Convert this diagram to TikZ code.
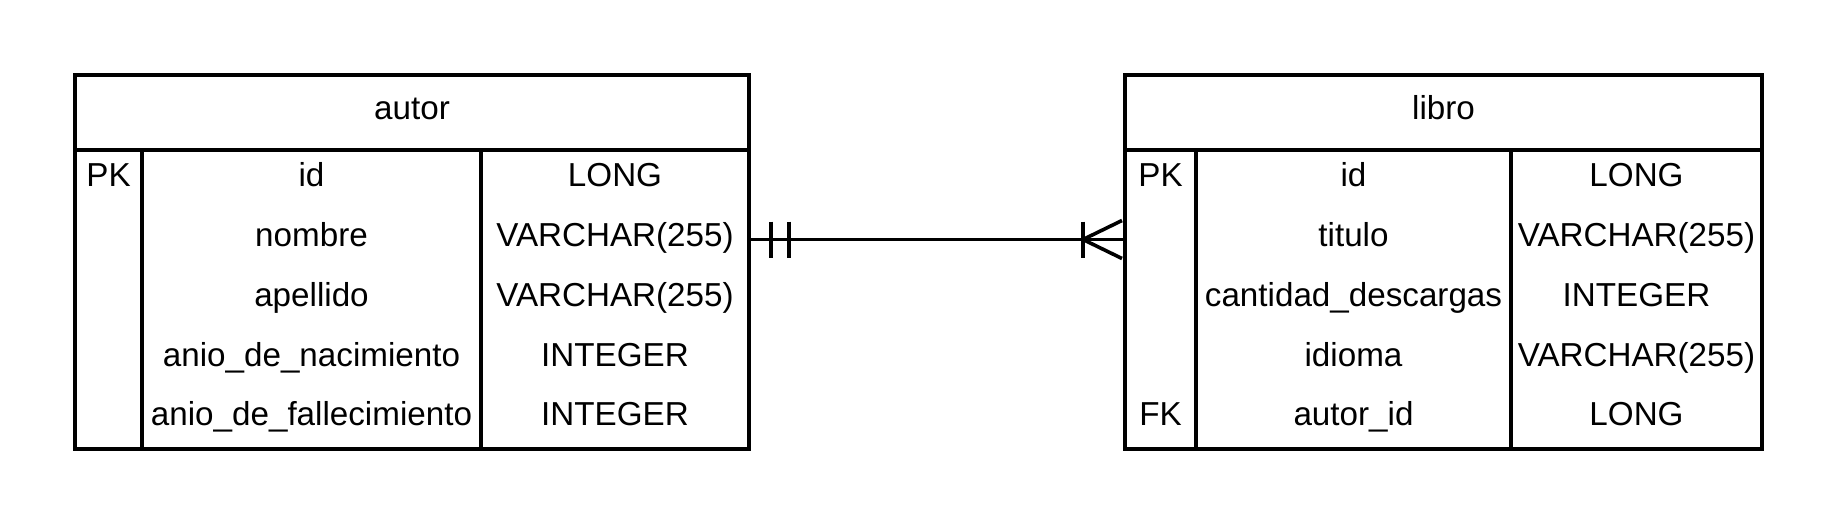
\documentclass[tikz,border=0pt]{standalone}
\usepackage{fontspec}
\setmainfont{Liberation Sans}
\usetikzlibrary{calc}
\begin{document}
\begin{tikzpicture}[x=0.5pt,y=-0.5pt,
  line width=2pt,
  txt/.style={anchor=base, inner sep=0pt, font=\fontsize{16.6}{20}\selectfont},
  tbl/.style={draw, line width=2pt, inner sep=0pt, outer sep=0pt},
  rel/.style={line width=1.8pt}]
\useasboundingbox (0,0) rectangle (1838,525);

% ---------- autor table ----------
\node[tbl, minimum width=337pt, minimum height=187pt] (autor) at (412,262) {};
\draw (75,150) -- (749,150);
\draw (141.5,150) -- (141.5,449);
\draw (481,150) -- (481,449);
\node[txt] (autorH) at (412,119.3) {autor};
\node[txt] (aK1) at (108.5,186.7) {PK};
\node[txt] (aN1) at (311.5,186.7) {id};
\node[txt] (aT1) at (615,186.7) {LONG};
\node[txt] (aN2) at (311.5,246.5) {nombre};
\node[txt] (aT2) at (615,246.5) {VARCHAR(255)};
\node[txt] (aN3) at (311.5,306.3) {apellido};
\node[txt] (aT3) at (615,306.3) {VARCHAR(255)};
\node[txt] (aN4) at (311.5,366.1) {anio\_de\_nacimiento};
\node[txt] (aT4) at (615,366.1) {INTEGER};
\node[txt] (aN5) at (311.5,425.9) {anio\_de\_fallecimiento};
\node[txt] (aT5) at (615,425.9) {INTEGER};

% ---------- libro table ----------
\node[tbl, minimum width=318.5pt, minimum height=187pt] (libro) at (1443.5,262) {};
\draw (1125,150) -- (1762,150);
\draw (1196,150) -- (1196,449);
\draw (1511,150) -- (1511,449);
\node[txt] (libroH) at (1443.5,119.3) {libro};
\node[txt] (lK1) at (1160.5,186.7) {PK};
\node[txt] (lN1) at (1353.5,186.7) {id};
\node[txt] (lT1) at (1636.5,186.7) {LONG};
\node[txt] (lN2) at (1353.5,246.5) {titulo};
\node[txt] (lT2) at (1636.5,246.5) {VARCHAR(255)};
\node[txt] (lN3) at (1353.5,306.3) {cantidad\_descargas};
\node[txt] (lT3) at (1636.5,306.3) {INTEGER};
\node[txt] (lN4) at (1353.5,366.1) {idioma};
\node[txt] (lT4) at (1636.5,366.1) {VARCHAR(255)};
\node[txt] (lK5) at (1160.5,425.9) {FK};
\node[txt] (lN5) at (1353.5,425.9) {autor\_id};
\node[txt] (lT5) at (1636.5,425.9) {LONG};

% ---------- relationship ----------
\coordinate (relA) at (autor.east |- 0,239.5);
\coordinate (relL) at (libro.west |- 0,239.5);
\draw[rel] (relA) -- (relL);
% one and only one
\draw[rel] ($(relA)+(22,-18)$) -- ($(relA)+(22,18)$);
\draw[rel] ($(relA)+(40,-18)$) -- ($(relA)+(40,18)$);
% one or many
\draw[rel] ($(relL)+(-42,-18)$) -- ($(relL)+(-42,18)$);
\draw[rel] ($(relL)+(-3,-19)$) -- ($(relL)+(-42,0)$) -- ($(relL)+(-3,19)$);
\end{tikzpicture}
\end{document}
